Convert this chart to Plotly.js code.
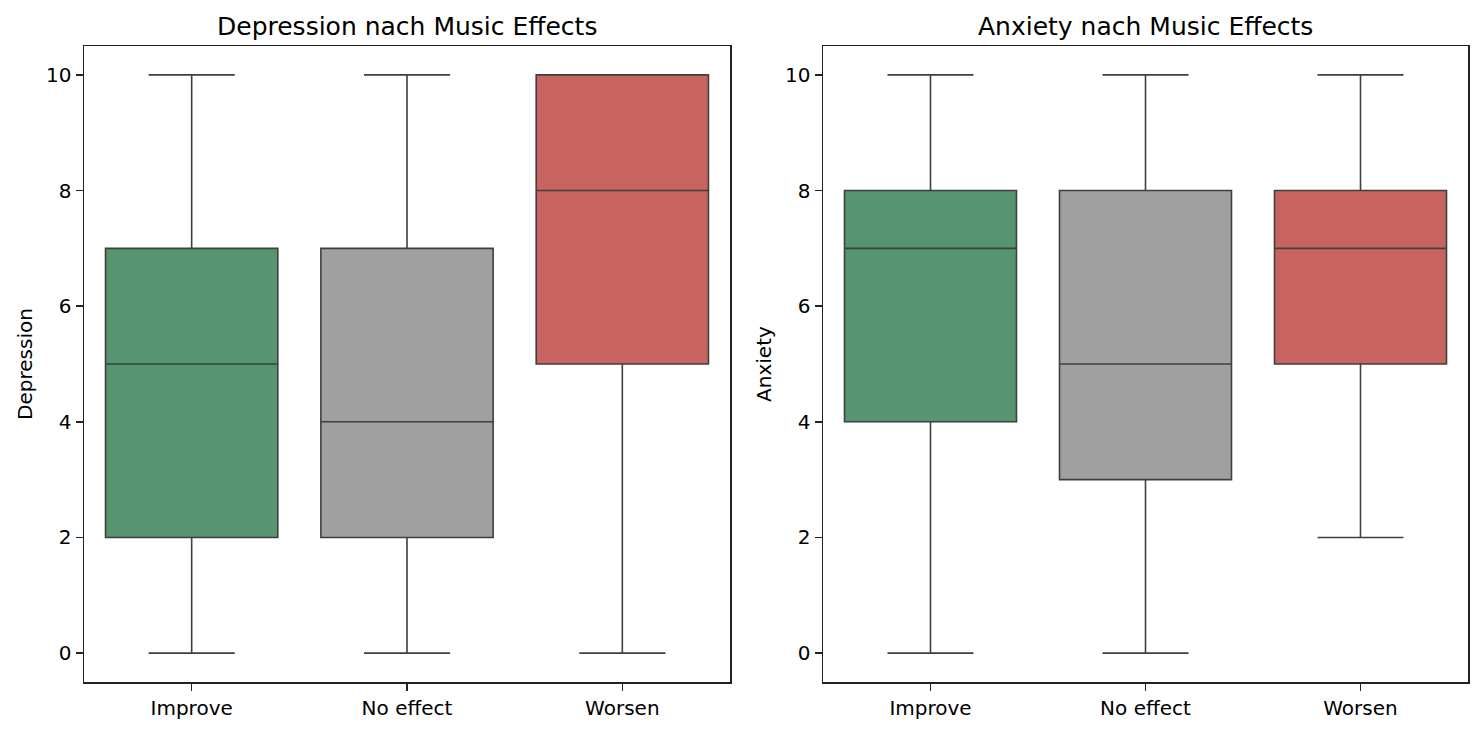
<!DOCTYPE html>
<html>
<head>
<meta charset="utf-8">
<script src="https://cdn.plot.ly/plotly-3.0.1.min.js"></script>
<style>html,body{margin:0;padding:0;background:#fff;}#chart{width:1484px;height:732px;}</style>
</head>
<body>
<div id="chart"></div>
<script>
const categories = ['Improve', 'No effect', 'Worsen'];
const boxColors = ['#55956f', '#a0a0a0', '#c8645f'];

const depLower  = [0, 0, 0];
const depQ1     = [2, 2, 5];
const depMedian = [5, 4, 8];
const depQ3     = [7, 7, 10];
const depUpper  = [10, 10, 10];

const anxLower  = [0, 0, 2];
const anxQ1     = [4, 3, 5];
const anxMedian = [7, 5, 7];
const anxQ3     = [8, 8, 8];
const anxUpper  = [10, 10, 10];

const lineCol = '#3f3f3f';
const frameCol = '#222222';
const traces = [];
function addBoxes(lower, q1, med, q3, upper, xa, ya) {
  categories.forEach((c, i) => {
    traces.push({
      type: 'box', x: [c], lowerfence: [lower[i]], q1: [q1[i]], median: [med[i]],
      q3: [q3[i]], upperfence: [upper[i]], xaxis: xa, yaxis: ya, width: 0.8,
      fillcolor: boxColors[i], line: {color: lineCol, width: 1.6},
      whiskerwidth: 0.5, boxpoints: false, showlegend: false, name: c
    });
  });
}
addBoxes(depLower, depQ1, depMedian, depQ3, depUpper, 'x', 'y');
addBoxes(anxLower, anxQ1, anxMedian, anxQ3, anxUpper, 'x2', 'y2');

const axBase = {
  showline: true, mirror: true, linecolor: frameCol, linewidth: 1.5,
  ticks: 'outside', ticklen: 7, tickwidth: 1.5, tickcolor: frameCol,
  showgrid: false, zeroline: false, fixedrange: true,
  tickfont: {family: 'DejaVu Sans', size: 20, color: '#000'}
};
const yDom = [1 - 682/732, 1 - 46/732];
const layout = {
  width: 1484, height: 732,
  margin: {l: 0, r: 0, t: 0, b: 0},
  paper_bgcolor: '#fff', plot_bgcolor: '#fff',
  font: {family: 'DejaVu Sans', color: '#000'},
  boxmode: 'overlay', boxgap: 0.2,
  xaxis: Object.assign({}, axBase, {domain: [84/1484, 730/1484], type: 'category', range: [-0.5, 2.5], anchor: 'y', categoryarray: categories}),
  yaxis: Object.assign({}, axBase, {domain: yDom, range: [-0.5, 10.5], dtick: 2, tick0: 0, anchor: 'x',
    title: {text: 'Depression', font: {family: 'DejaVu Sans', size: 20, color: '#000'}, standoff: 8}}),
  xaxis2: Object.assign({}, axBase, {domain: [823/1484, 1468/1484], type: 'category', range: [-0.5, 2.5], anchor: 'y2', categoryarray: categories}),
  yaxis2: Object.assign({}, axBase, {domain: yDom, range: [-0.5, 10.5], dtick: 2, tick0: 0, anchor: 'x2',
    title: {text: 'Anxiety', font: {family: 'DejaVu Sans', size: 20, color: '#000'}, standoff: 8}}),
  annotations: [
    {text: 'Depression nach Music Effects', xref: 'paper', yref: 'paper', x: 407/1484, y: 1 - 26/732,
     xanchor: 'center', yanchor: 'middle', showarrow: false, font: {family: 'DejaVu Sans', size: 25, color: '#000'}},
    {text: 'Anxiety nach Music Effects', xref: 'paper', yref: 'paper', x: 1145.5/1484, y: 1 - 26/732,
     xanchor: 'center', yanchor: 'middle', showarrow: false, font: {family: 'DejaVu Sans', size: 25, color: '#000'}}
  ]
};
Plotly.newPlot('chart', traces, layout, {displayModeBar: false, staticPlot: true});
</script>
</body>
</html>
